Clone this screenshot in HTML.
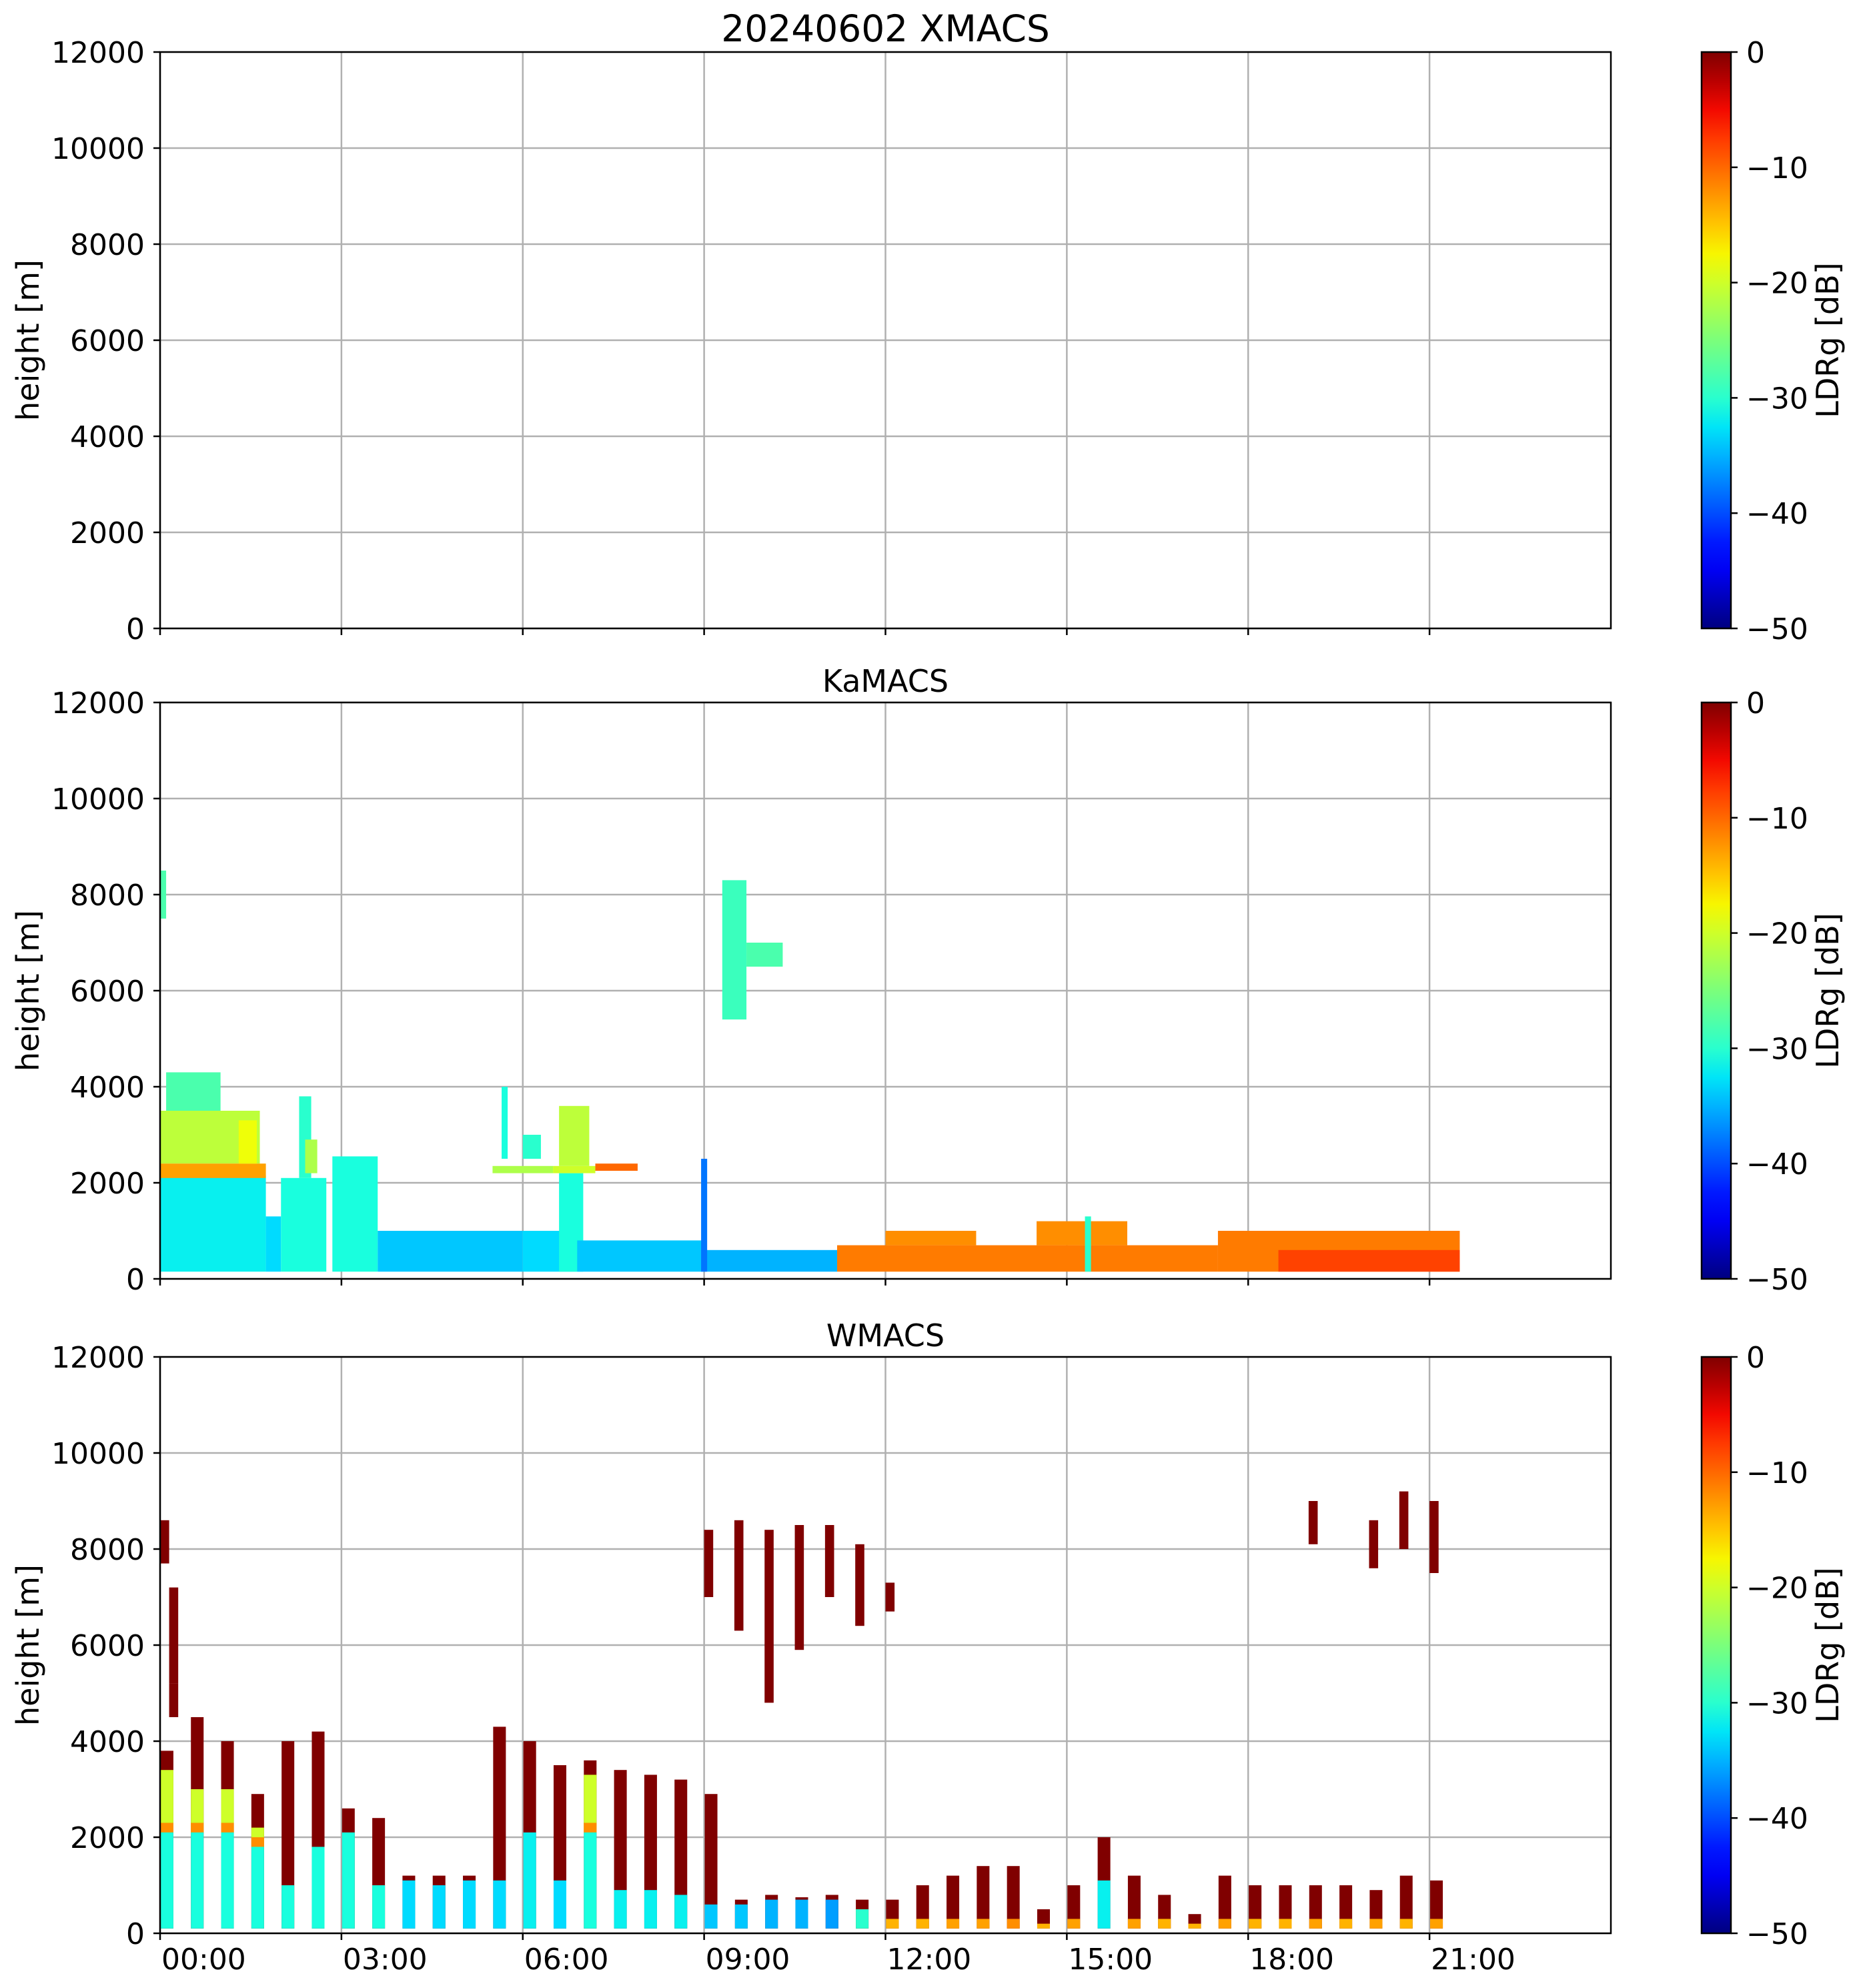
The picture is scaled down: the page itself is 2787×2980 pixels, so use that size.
<!DOCTYPE html>
<html><head><meta charset="utf-8"><style>
html,body{margin:0;padding:0;background:#fff}
svg{display:block;font-family:"DejaVu Sans","Liberation Sans",sans-serif}
</style></head><body>
<svg id="fig" width="2787" height="2980" viewBox="0 0 2787 2980" xmlns="http://www.w3.org/2000/svg">
<defs>
<linearGradient id="jetgrad" x1="0" y1="1" x2="0" y2="0"></linearGradient>
</defs>
</svg>
<script>
// ---- data ----
const panelNames = ["20240602 XMACS", "KaMACS", "WMACS"];
const hourTicks = [0,3,6,9,12,15,18,21];
const hourLabels = ["00:00","03:00","06:00","09:00","12:00","15:00","18:00","21:00"];
const heightTicks = [0,2000,4000,6000,8000,10000,12000];
const cbTicks = [0,-10,-20,-30,-40,-50];
const cbLabels = ["0","\u221210","\u221220","\u221230","\u221240","\u221250"];

// KaMACS blocks (hours, metres, dB)
const kaT0 = [0,1.75,2.0,2.3,2.4,2.85,3.6,6.0,6.6,6.9,9.0,8.95,5.5,6.5,7.2,5.65,6.0,6.6,0,0,0.1,1.3,0,9.3,9.7,11.2,12.0,14.5,15.3,17.5,18.5];
const kaT1 = [1.75,2.0,2.75,2.5,2.6,3.6,6.0,6.9,7.0,9.0,11.2,9.05,6.5,7.2,7.9,5.75,6.3,7.1,1.65,1.75,1.0,1.6,0.1,9.7,10.3,17.5,13.5,16.0,15.4,21.5,21.5];
const kaH0 = [150,150,150,2100,2200,150,150,150,150,150,150,150,2200,2200,2250,2500,2500,2350,2400,2100,3500,2400,7500,5400,6500,150,700,700,150,150,150];
const kaH1 = [2150,1300,2100,3800,2900,2550,1000,1000,2200,800,600,2500,2350,2350,2400,4000,3000,3600,3500,2400,4300,3300,8500,8300,7000,700,1000,1200,1300,1000,600];
const kaV  = [-32,-33,-31,-30,-22,-31,-34,-33,-31,-34,-35,-38,-22,-20,-10,-31,-30,-21,-21,-13,-28,-18,-28,-29,-28,-11,-12,-12,-30,-11,-8];

// WMACS columns (one every 0.5 h)
const wCyanTop   = [2100,2100,2100,1800,1000,1800,2100,1000,1100,1000,1100,1100,2100,1100,2100,900,900,800,600,600,700,700,700,500,300,300,300,300,300,200,300,1100,300,300,200,300,300,300,300,300,300,300,300];
const wYellowTop = [3400,3000,3000,2200,0,0,0,0,0,0,0,0,0,0,3300,0,0,0,0,0,0,0,0,0,0,0,0,0,0,0,0,0,0,0,0,0,0,0,0,0,0,0,0];
const wRedTop    = [3800,4500,4000,2900,4000,4200,2600,2400,1200,1200,1200,4300,4000,3500,3600,3400,3300,3200,2900,700,800,750,800,700,700,1000,1200,1400,1400,500,1000,2000,1200,800,400,1200,1000,1000,1000,1000,900,1200,1100];
const wBaseVal   = [-31,-31,-31,-31,-31,-31,-31,-31,-33,-33,-33,-33,-32,-33,-31,-32,-32,-32,-34,-34,-35,-35,-36,-30,-14,-14,-13,-13,-12,-14,-13,-32,-13,-14,-14,-13,-14,-14,-13,-14,-13,-14,-13];
const wUpT0 = [0.0,0.15,0.15,9.0,9.5,10.0,10.5,11.0,11.5,12.0,19.0,20.0,20.5,21.0];
const wUpH0 = [7700,4500,5200,7000,6300,4800,5900,7000,6400,6700,8100,7600,8000,7500];
const wUpH1 = [8600,5200,7200,8400,8600,8400,8500,8500,8100,7300,9000,8600,9200,9000];

const NS="http://www.w3.org/2000/svg";
const svg=document.getElementById('fig');
const L=240,R=2415,PH=864;
const tops=[78,1053,2034];
function xs(h){return L+h*(R-L)/24;}
function ys(p,m){return tops[p]+PH-m*PH/12000;}
function interp(pts,v){for(let i=1;i<pts.length;i++){if(v<=pts[i][0]){const a=pts[i-1],b=pts[i];return a[1]+(b[1]-a[1])*(v-a[0])/(b[0]-a[0]);}}return pts[pts.length-1][1];}
function jet(db){let v=Math.max(0,Math.min(1,(db+50)/50));
const r=interp([[0,0],[0.35,0],[0.66,1],[0.89,1],[1,0.5]],v);
const g=interp([[0,0],[0.125,0],[0.375,1],[0.64,1],[0.91,0],[1,0]],v);
const b=interp([[0,0.5],[0.11,1],[0.34,1],[0.65,0],[1,0]],v);
return `rgb(${Math.round(r*255)},${Math.round(g*255)},${Math.round(b*255)})`;}
function el(tag,attrs,parent){const e=document.createElementNS(NS,tag);for(const k in attrs)e.setAttribute(k,attrs[k]);(parent||svg).appendChild(e);return e;}
function cell(g,p,t0,t1,h0,h1,v){const x0=xs(t0),x1=xs(t1),y0=ys(p,h1),y1=ys(p,h0);
const r=el('rect',{x:x0,y:y0,width:Math.max(1,x1-x0),height:Math.max(1,y1-y0),fill:jet(v)},g);

}

const grad=document.getElementById('jetgrad');
for(let i=0;i<=20;i++){el('stop',{offset:(i/20),'stop-color':jet(-50+50*i/20)},grad);}

for(let p=0;p<3;p++){
  const g=el('g',{});
  
  
  const T=tops[p],B=T+PH;
  hourTicks.forEach(h=>{const l=el('line',{x1:xs(h),x2:xs(h),y1:T,y2:B,stroke:'#b0b0b0','stroke-width':2.5},g);});
  heightTicks.forEach(m=>{const l=el('line',{x1:L,x2:R,y1:ys(p,m),y2:ys(p,m),stroke:'#b0b0b0','stroke-width':2.5},g);});
  const dg=el('g',{},g);
  
  
  if(p===1){for(let i=0;i<kaT0.length;i++)cell(dg,1,kaT0[i],kaT1[i],kaH0[i],kaH1[i],kaV[i]);}
  if(p===2){
    for(let k=0;k<wRedTop.length;k++){const t0=0.5*k+0.01,t1=t0+0.21;
      cell(dg,2,t0,t1,100,wRedTop[k],0);
      if(wYellowTop[k]>0){cell(dg,2,t0,t1,wCyanTop[k],wYellowTop[k],-20);cell(dg,2,t0,t1,wCyanTop[k],wCyanTop[k]+200,-12);}
      cell(dg,2,t0,t1,100,wCyanTop[k],wBaseVal[k]);}
    for(let i=0;i<wUpT0.length;i++)cell(dg,2,wUpT0[i],wUpT0[i]+0.15,wUpH0[i],wUpH1[i],0);
  }
  const sp=el('rect',{x:L,y:T,width:R-L,height:PH,fill:'none',stroke:'#000','stroke-width':2.5},g);
  
  
  heightTicks.forEach(m=>{el('line',{x1:L-10,x2:L,y1:ys(p,m),y2:ys(p,m),stroke:'#000','stroke-width':2.5},g);
    const t=el('text',{x:217,y:ys(p,m)+16,'text-anchor':'end','font-size':44},g);t.textContent=m;
    });
  hourTicks.forEach((h,i)=>{el('line',{x1:xs(h),x2:xs(h),y1:B,y2:B+10,stroke:'#000','stroke-width':2.5},g);
    if(p===2){const t=el('text',{x:xs(h)+2,y:2952,'font-size':44},g);t.textContent=hourLabels[i];
    }});
  const yl=el('text',{x:0,y:0,'font-size':46,'text-anchor':'middle',transform:`translate(58,${T+PH/2}) rotate(-90)`},g);
  yl.textContent='height [m]';
  
  
  const ti=el('text',{x:(L+R)/2,y:T-16,'font-size':p===0?55:46,'text-anchor':'middle'},g);
  ti.textContent=panelNames[p];
  
  
  const cb=el('g',{},g);
  
  
  el('rect',{x:2551,y:T,width:44,height:PH,fill:'url(#jetgrad)',stroke:'#000','stroke-width':2.5},cb);
  cbTicks.forEach((v,i)=>{const y=T+(-v)*PH/50;el('line',{x1:2595,x2:2605,y1:y,y2:y,stroke:'#000','stroke-width':2.5},cb);
    const t=el('text',{x:2618,y:y+16,'font-size':44},cb);t.textContent=cbLabels[i];
    });
  const cl=el('text',{x:0,y:0,'font-size':46,'text-anchor':'middle',transform:`translate(2756,${T+PH/2}) rotate(-90)`},cb);
  cl.textContent='LDRg [dB]';
  
  
}
</script>
</body></html>
